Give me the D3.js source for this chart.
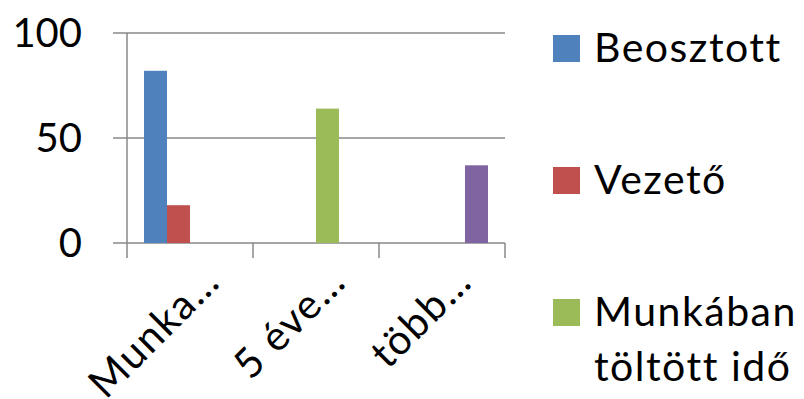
<!DOCTYPE html>
<html>
<head>
<meta charset="utf-8">
<script src="https://cdn.jsdelivr.net/npm/d3@7"></script>
<style>
  html, body { margin: 0; padding: 0; background: #fff; }
  svg { display: block; font-family: Lato, "Open Sans", sans-serif; }
</style>
</head>
<body>
<svg id="chart" width="804" height="399"></svg>
<script>
// Chart data
const categories = ["Munka…", "5 éve…", "több…"];
const seriesNames = ["Beosztott", "Vezető", "Munkában töltött idő", ""];
const seriesColors = ["#4F81BD", "#C0504D", "#9BBB59", "#8064A2"];
// one array per series, one entry per category (null = no bar)
const beosztott = [82, null, null];
const vezeto = [18, null, null];
const munkaban = [null, 64, null];
const negyedik = [null, null, 37];
const yTicks = [0, 50, 100];

const values = [beosztott, vezeto, munkaban, negyedik];

(function draw() {
  const svg = d3.select("#chart");
  const gridColor = "#898989";
  const labelSize = 41, labelSpacing = 1.5;

  // Plot area
  const plotLeft = 127, plotRight = 505, plotTop = 33, plotBottom = 243;

  const y = d3.scaleLinear().domain([0, 100]).range([plotBottom, plotTop]);
  const x0 = d3.scaleBand().domain(categories).range([plotLeft, plotRight]).padding(0);
  const x1 = d3.scaleBand()
    .domain(d3.range(seriesNames.length))
    .range([0, x0.bandwidth()])
    .paddingInner(0)
    .paddingOuter(0.74);

  // Horizontal gridlines with outward ticks on the left
  svg.append("g")
    .selectAll("line")
    .data(yTicks)
    .join("line")
    .attr("x1", plotLeft - 14)
    .attr("x2", plotRight)
    .attr("y1", d => y(d))
    .attr("y2", d => y(d))
    .attr("stroke", gridColor)
    .attr("stroke-width", 1.5);

  // Value axis line
  svg.append("line")
    .attr("x1", plotLeft).attr("x2", plotLeft)
    .attr("y1", plotTop).attr("y2", plotBottom + 15)
    .attr("stroke", gridColor).attr("stroke-width", 1.5);

  // Category tick marks at band boundaries
  const boundaries = categories.map(c => x0(c) + x0.bandwidth());
  svg.append("g")
    .selectAll("line")
    .data(boundaries)
    .join("line")
    .attr("x1", d => d).attr("x2", d => d)
    .attr("y1", plotBottom).attr("y2", plotBottom + 15)
    .attr("stroke", gridColor).attr("stroke-width", 1.5);

  // Y tick labels
  svg.append("g")
    .selectAll("text")
    .data(yTicks)
    .join("text")
    .attr("x", plotLeft - 45)
    .attr("y", d => y(d) + 14)
    .attr("text-anchor", "end")
    .attr("font-size", 40)
    .attr("fill", "#000")
    .text(d => d);

  // Bars
  const barData = [];
  values.forEach((arr, s) => arr.forEach((v, c) => {
    if (v != null) barData.push({ s, c: categories[c], v });
  }));
  svg.append("g")
    .selectAll("rect")
    .data(barData)
    .join("rect")
    .attr("x", d => x0(d.c) + x1(d.s))
    .attr("width", x1.bandwidth())
    .attr("y", d => y(d.v))
    .attr("height", d => y(0) - y(d.v))
    .attr("fill", d => seriesColors[d.s]);

  // Rotated category labels
  svg.append("g")
    .selectAll("text")
    .data(categories)
    .join("text")
    .attr("transform", d => `translate(${x0(d) + x0.bandwidth() / 2 + 32},284) rotate(-45)`)
    .attr("text-anchor", "end")
    .attr("font-size", labelSize)
    .attr("letter-spacing", labelSpacing)
    .attr("fill", "#000")
    .text(d => d);

  // Legend
  const legendTop = 35, legendStep = 132;
  const legend = svg.append("g")
    .selectAll("g")
    .data(seriesNames.map((name, i) => ({ name, i })))
    .join("g")
    .attr("transform", d => `translate(553,${legendTop + d.i * legendStep})`);
  legend.append("rect")
    .attr("width", 27).attr("height", 27)
    .attr("fill", d => seriesColors[d.i]);
  legend.each(function (d) {
    const words = d.name.split(" ");
    const lines = words.length > 2 ? [words[0], words.slice(1).join(" ")] : [d.name];
    const t = d3.select(this).append("text")
      .attr("x", 41)
      .attr("y", 27)
      .attr("font-size", labelSize)
      .attr("letter-spacing", labelSpacing)
      .attr("fill", "#000");
    lines.forEach((ln, k) => {
      t.append("tspan").attr("x", 41).attr("dy", k === 0 ? 0 : 55).text(ln);
    });
  });
})();
</script>
</body>
</html>
